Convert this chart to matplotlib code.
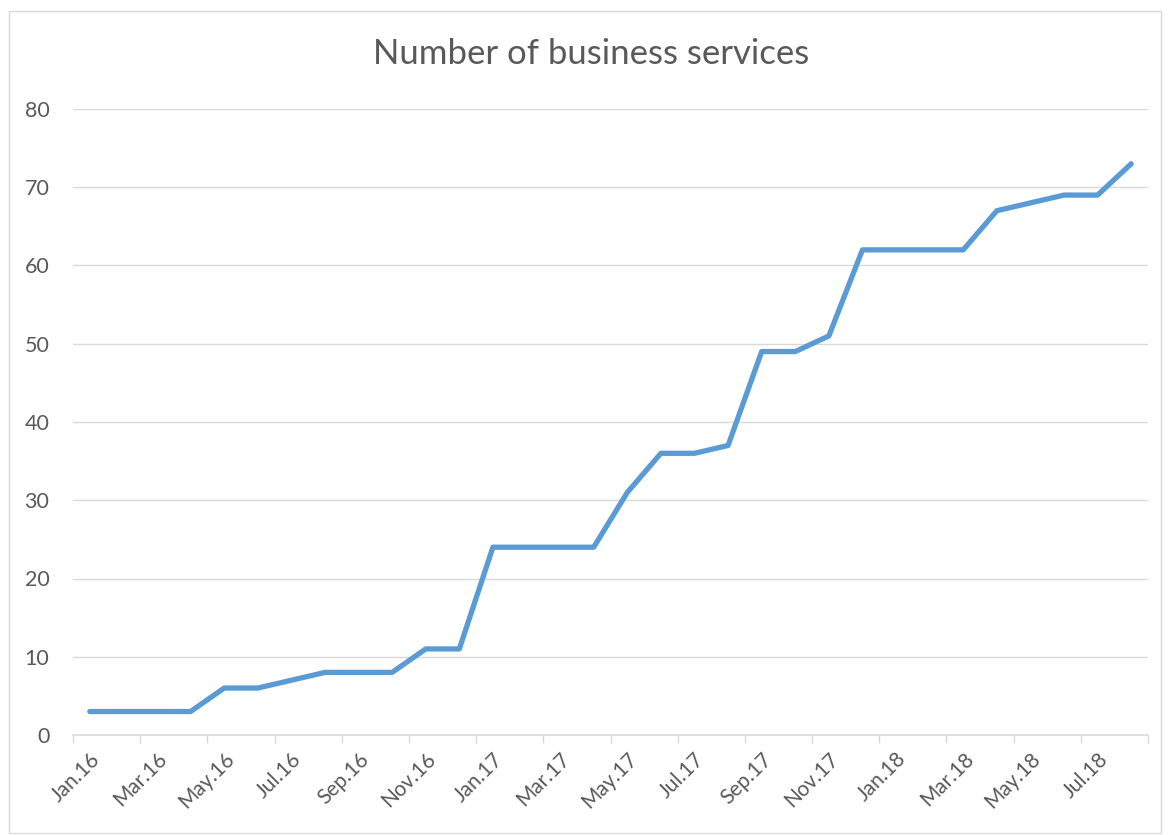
import matplotlib
matplotlib.use("Agg")
import matplotlib.pyplot as plt
from matplotlib.patches import Rectangle

# monthly counts, Jan.16 .. Aug.18
months = ["Jan.16", "Feb.16", "Mar.16", "Apr.16", "May.16", "Jun.16", "Jul.16", "Aug.16",
          "Sep.16", "Oct.16", "Nov.16", "Dec.16", "Jan.17", "Feb.17", "Mar.17", "Apr.17",
          "May.17", "Jun.17", "Jul.17", "Aug.17", "Sep.17", "Oct.17", "Nov.17", "Dec.17",
          "Jan.18", "Feb.18", "Mar.18", "Apr.18", "May.18", "Jun.18", "Jul.18", "Aug.18"]
services = [3, 3, 3, 3, 6, 6, 7, 8, 8, 8, 11, 11, 24, 24, 24, 24,
            31, 36, 36, 37, 49, 49, 51, 62, 62, 62, 62, 67, 68, 69, 69, 73]

plt.rcParams['font.family'] = ['Lato', 'DejaVu Sans']
grey = "#595959"

fig = plt.figure(figsize=(11.7, 8.35), dpi=100)
fig.patches.append(Rectangle((9 / 1170, 2 / 835), 1152 / 1170, 822 / 835, transform=fig.transFigure,
                             fill=False, edgecolor="#D9D9D9", linewidth=1))
ax = fig.add_axes([73 / 1170, 100 / 835, 1075 / 1170, 626 / 835])

x = list(range(len(months)))
ax.plot(x, services, color="#5B9BD5", linewidth=3.8, solid_joinstyle="round", solid_capstyle="round")

ax.set_xlim(-0.5, len(months) - 0.5)
ax.set_ylim(0, 80)
ax.set_yticks(range(0, 81, 10))
ax.grid(axis="y", color="#D9D9D9", linewidth=1)
ax.set_axisbelow(True)

ax.set_xticks(x[::2])
ax.set_xticklabels(months[::2], rotation=45, ha="right", va="top", rotation_mode="anchor")
ax.set_xticks([i - 0.5 for i in range(0, len(months) + 1, 2)], minor=True)
ax.tick_params(axis="x", which="major", length=0, pad=10, labelsize=15, labelcolor=grey)
ax.tick_params(axis="x", which="minor", length=6, color="#D9D9D9", width=1)
ax.tick_params(axis="y", length=0, pad=17, labelsize=15.5, labelcolor=grey)
for lbl in ax.get_yticklabels():
    lbl.set_horizontalalignment("right")

for s in ["top", "right", "left"]:
    ax.spines[s].set_visible(False)
ax.spines["bottom"].set_color("#D9D9D9")
ax.spines["bottom"].set_linewidth(1.2)

fig.text(0.505, 0.935, "Number of business services", ha="center", va="center",
         fontsize=25, color=grey)

fig.savefig("out.png", dpi=100)
